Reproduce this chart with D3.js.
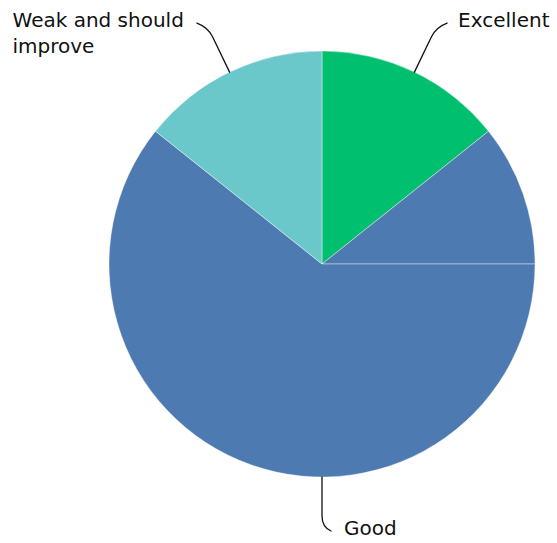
<!DOCTYPE html>
<html>
<head>
<meta charset="utf-8">
<script src="https://cdn.jsdelivr.net/npm/d3@7/dist/d3.min.js"></script>
<style>
  html, body { margin: 0; padding: 0; background: #fff; }
  svg { display: block; }
  text { font-family: "DejaVu Sans", sans-serif; font-size: 20px; fill: #111; }
</style>
</head>
<body>
<svg id="chart" width="557" height="543"></svg>
<script>
// Ratings and their counts, clockwise from 12 o'clock
const categories = ["Excellent", "Good", "Weak and should improve"];
const counts = [1, 5, 1];
const colors = ["#00BF6F", "#4E7AB2", "#6BC8CA"];
const labelLines = [["Excellent"], ["Good"], ["Weak and should", "improve"]];

const cx = 322, cy = 264, radius = 213;

const svg = d3.select("#chart");
const g = svg.append("g").attr("transform", `translate(${cx},${cy})`);

const rows = categories.map((c, i) => ({ name: c, value: counts[i], color: colors[i], lines: labelLines[i] }));
const pie = d3.pie().sort(null).value(d => d.value);
const arcs = pie(rows);
const arc = d3.arc().innerRadius(0).outerRadius(radius);

// Slices wider than a half turn are drawn in two pieces, split at 3 o'clock
const pieces = [];
arcs.forEach(a => {
  const q = Math.PI / 2;
  if (a.endAngle - a.startAngle > Math.PI && a.startAngle < q && a.endAngle > q) {
    pieces.push({ startAngle: a.startAngle, endAngle: q, data: a.data });
    pieces.push({ startAngle: q, endAngle: a.endAngle, data: a.data });
  } else {
    pieces.push(a);
  }
});

g.selectAll("path.slice")
  .data(pieces)
  .join("path")
  .attr("class", "slice")
  .attr("d", arc)
  .attr("fill", d => d.data.color)
  .attr("stroke", "rgba(255,255,255,0.5)")
  .attr("stroke-width", 0.8);

// Leader lines and labels
const leadR = radius + 50;
arcs.forEach(a => {
  const mid = (a.startAngle + a.endAngle) / 2;
  const sx = Math.sin(mid), sy = -Math.cos(mid);
  const bottom = Math.abs(sx) < 1e-6;
  const side = bottom ? 1 : Math.sign(sx);
  const p0 = [sx * radius, sy * radius];
  const p1 = [sx * leadR, sy * leadR];
  const p2 = bottom ? [p1[0] + 9, p1[1] + 4] : [p1[0] + side * 11, p1[1] - 4];
  const pm = [p0[0] + (p1[0] - p0[0]) * 0.78, p0[1] + (p1[1] - p0[1]) * 0.78];
  g.append("path")
    .attr("d", `M${p0[0]},${p0[1]} L${pm[0]},${pm[1]} Q${p1[0]},${p1[1]} ${p2[0]},${p2[1]}`)
    .attr("fill", "none")
    .attr("stroke", "#111")
    .attr("stroke-width", 1.3)
    .attr("stroke-linecap", "round");

  const label = g.append("text");
  a.data.lines.forEach((ln, i) => {
    label.append("tspan").attr("x", 0).attr("dy", i === 0 ? 0 : 26.6).text(ln);
  });
  const w = label.node().getBBox().width;
  const gap = bottom ? 13 : (side > 0 ? 11 : 13);
  const tx = side > 0 ? p2[0] + gap : p2[0] - gap - w;
  const ty = p2[1] + 3.7;
  label.attr("transform", `translate(${tx},${ty})`);
});
</script>
</body>
</html>
